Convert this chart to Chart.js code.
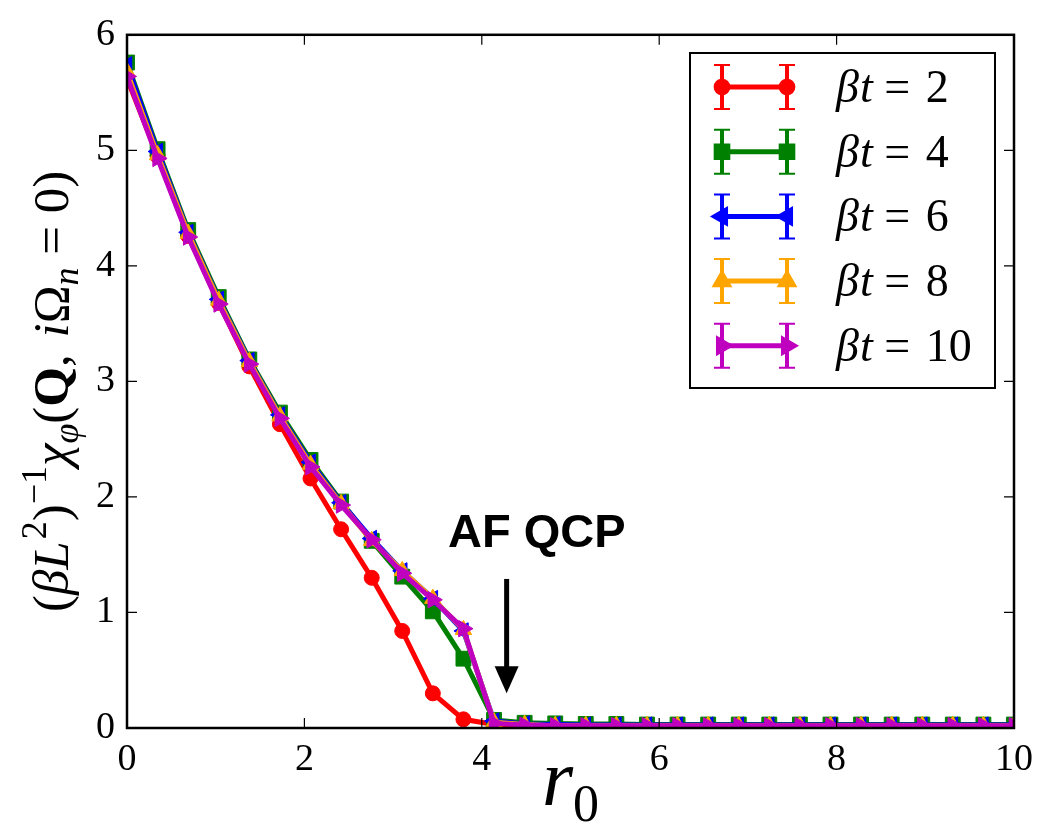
<!DOCTYPE html>
<html>
<head>
<meta charset="utf-8">
<script src="https://cdn.jsdelivr.net/npm/chart.js@4/dist/chart.umd.min.js"></script>
<style>
  html, body { margin: 0; padding: 0; background: #fff; }
  #chart { display: block; }
</style>
</head>
<body>
<canvas id="chart" width="1042" height="826"></canvas>
<script>
// r0 grid (30 points from 0 to 10)
const r0 = [0, 0.345, 0.690, 1.034, 1.379, 1.724, 2.069, 2.414, 2.759, 3.103,
  3.448, 3.793, 4.138, 4.483, 4.828, 5.172, 5.517, 5.862, 6.207, 6.552,
  6.897, 7.241, 7.586, 7.931, 8.276, 8.621, 8.966, 9.310, 9.655, 10.0];

// inverse susceptibility for each beta*t
const bt2 = [5.62, 4.95, 4.26, 3.68, 3.13, 2.63, 2.16, 1.72, 1.30, 0.84,
  0.30, 0.075, 0.03, 0.015, 0.012, 0.01, 0.01, 0.01, 0.01, 0.01,
  0.01, 0.01, 0.01, 0.01, 0.01, 0.01, 0.01, 0.01, 0.01, 0.01];
const bt4 = [5.76, 5.01, 4.31, 3.73, 3.19, 2.73, 2.32, 1.96, 1.62, 1.31,
  1.01, 0.60, 0.07, 0.045, 0.04, 0.035, 0.035, 0.03, 0.03, 0.03,
  0.03, 0.03, 0.03, 0.03, 0.03, 0.03, 0.03, 0.03, 0.03, 0.03];
const bt6 = [5.74, 4.99, 4.29, 3.71, 3.18, 2.71, 2.30, 1.95, 1.64, 1.36,
  1.12, 0.84, 0.06, 0.035, 0.03, 0.025, 0.025, 0.025, 0.025, 0.025,
  0.025, 0.025, 0.025, 0.025, 0.025, 0.025, 0.025, 0.025, 0.025, 0.025];
const bt8 = [5.68, 4.96, 4.28, 3.70, 3.17, 2.70, 2.28, 1.94, 1.62, 1.36,
  1.12, 0.85, 0.05, 0.03, 0.02, 0.02, 0.02, 0.02, 0.02, 0.02,
  0.02, 0.02, 0.02, 0.02, 0.02, 0.02, 0.02, 0.02, 0.02, 0.02];
const bt10 = [5.64, 4.93, 4.25, 3.67, 3.15, 2.68, 2.26, 1.93, 1.63, 1.34,
  1.11, 0.86, 0.04, 0.025, 0.02, 0.02, 0.02, 0.02, 0.02, 0.02,
  0.02, 0.02, 0.02, 0.02, 0.02, 0.02, 0.02, 0.02, 0.02, 0.02];

const xTicks = [0, 2, 4, 6, 8, 10];
const yTicks = [0, 1, 2, 3, 4, 5, 6];
const seriesLabels = ['2', '4', '6', '8', '10'];

const SERIF = '"Liberation Serif", "DejaVu Serif", serif';

const styles = [
  { color: '#ff0000', pointStyle: 'circle', radius: 7.5, rotation: 0 },
  { color: '#008000', pointStyle: 'rect', radius: 10.5, rotation: 0 },
  { color: '#0000ff', pointStyle: 'triangle', radius: 9.5, rotation: -90 },
  { color: '#ffa500', pointStyle: 'triangle', radius: 9.5, rotation: 0 },
  { color: '#bf00bf', pointStyle: 'triangle', radius: 9.5, rotation: 90 }
];

const seriesValues = [bt2, bt4, bt6, bt8, bt10];

const datasets = seriesValues.map((vals, i) => ({
  label: 'βt = ' + seriesLabels[i],
  data: vals.map((v, k) => ({ x: r0[k], y: v })),
  borderColor: styles[i].color,
  backgroundColor: styles[i].color,
  pointBackgroundColor: styles[i].color,
  pointBorderColor: styles[i].color,
  pointStyle: styles[i].pointStyle,
  pointRadius: styles[i].radius,
  pointRotation: styles[i].rotation,
  pointBorderWidth: 1,
  pointHoverRadius: styles[i].radius,
  borderWidth: 5,
  tension: 0,
  clip: 0,
  order: 5 - i
}));

// draw a run of text pieces with different fonts and baseline shifts
function richText(ctx, parts, x, y, measureOnly) {
  let cx = x;
  parts.forEach(p => {
    ctx.font = p.font;
    const w = ctx.measureText(p.t).width;
    if (!measureOnly) ctx.fillText(p.t, cx, y + (p.dy || 0));
    cx += w + (p.gap || 0);
  });
  return cx - x;
}

const frameAndDecor = {
  id: 'frameAndDecor',
  afterDraw(chart) {
    const ctx = chart.ctx;
    const area = chart.chartArea;
    const xs = chart.scales.x;
    const ys = chart.scales.y;
    ctx.save();
    ctx.fillStyle = '#000';
    ctx.strokeStyle = '#000';

    // inward ticks on all four sides
    ctx.lineWidth = 1.2;
    ctx.beginPath();
    xTicks.forEach(v => {
      const px = xs.getPixelForValue(v);
      ctx.moveTo(px, area.bottom); ctx.lineTo(px, area.bottom - 10);
      ctx.moveTo(px, area.top); ctx.lineTo(px, area.top + 10);
    });
    yTicks.forEach(v => {
      const py = ys.getPixelForValue(v);
      ctx.moveTo(area.left, py); ctx.lineTo(area.left + 10, py);
      ctx.moveTo(area.right, py); ctx.lineTo(area.right - 10, py);
    });
    ctx.stroke();

    // axes frame
    ctx.lineWidth = 2.5;
    ctx.strokeRect(area.left, area.top, area.right - area.left, area.bottom - area.top);

    // x axis title r_0
    ctx.textBaseline = 'alphabetic';
    ctx.textAlign = 'left';
    const xt = [
      { t: 'r', font: 'italic 80px ' + SERIF },
      { t: '0', font: '52px ' + SERIF, dy: 16 }
    ];
    const xw = richText(ctx, xt, 0, 0, true);
    richText(ctx, xt, (area.left + area.right) / 2 - xw / 2, 805);

    // y axis title
    const big = '51px ' + SERIF;
    const ital = 'italic 51px ' + SERIF;
    const small = '36px ' + SERIF;
    const smallIt = 'italic 36px ' + SERIF;
    const yt = [
      { t: '(', font: big },
      { t: 'β', font: ital },
      { t: 'L', font: ital, gap: 2 },
      { t: '2', font: small, dy: -22 },
      { t: ')', font: big },
      { t: '−1', font: small, dy: -22 },
      { t: 'χ', font: ital },
      { t: 'φ', font: smallIt, dy: 10 },
      { t: '(', font: big },
      { t: 'Q', font: 'bold 51px ' + SERIF },
      { t: ', ', font: big, gap: 4 },
      { t: 'i', font: ital },
      { t: 'Ω', font: big },
      { t: 'n', font: smallIt, dy: 10 },
      { t: ' = ', font: big },
      { t: '0', font: big },
      { t: ')', font: big }
    ];
    const yw = richText(ctx, yt, 0, 0, true);
    ctx.save();
    ctx.translate(68, (area.top + area.bottom) / 2 + 10);
    ctx.rotate(-Math.PI / 2);
    richText(ctx, yt, -yw / 2, 0);
    ctx.restore();

    // AF QCP annotation with arrow
    const ax = xs.getPixelForValue(4.28);
    ctx.font = 'bold 47px "Liberation Sans", Arial, sans-serif';
    ctx.textAlign = 'center';
    ctx.fillText('AF QCP', xs.getPixelForValue(4.62), ys.getPixelForValue(1.57));
    const yTop = ys.getPixelForValue(1.29);
    const yTip = ys.getPixelForValue(0.30);
    ctx.lineWidth = 5;
    ctx.beginPath();
    ctx.moveTo(ax, yTop);
    ctx.lineTo(ax, yTip - 20);
    ctx.stroke();
    ctx.beginPath();
    ctx.moveTo(ax - 12, yTip - 27);
    ctx.lineTo(ax + 12, yTip - 27);
    ctx.lineTo(ax, yTip);
    ctx.closePath();
    ctx.fill();

    // legend box
    const lx = 690, ly = 53, lw = 305, lh = 335;
    ctx.fillStyle = '#fff';
    ctx.fillRect(lx, ly, lw, lh);
    ctx.lineWidth = 2;
    ctx.strokeStyle = '#000';
    ctx.strokeRect(lx, ly, lw, lh);
    ctx.textAlign = 'left';
    styles.forEach((s, i) => {
      const cy = 87 + i * 64.7;
      const x1 = 722, x2 = 787;
      ctx.strokeStyle = s.color;
      ctx.fillStyle = s.color;
      ctx.lineWidth = 5;
      ctx.beginPath();
      ctx.moveTo(x1, cy); ctx.lineTo(x2, cy);
      ctx.stroke();
      // error bar glyphs
      [x1, x2].forEach(ex => {
        ctx.lineWidth = 2;
        ctx.beginPath();
        ctx.moveTo(ex - 8, cy - 22); ctx.lineTo(ex + 8, cy - 22);
        ctx.moveTo(ex - 8, cy + 22); ctx.lineTo(ex + 8, cy + 22);
        ctx.stroke();
        ctx.lineWidth = 4;
        ctx.beginPath();
        ctx.moveTo(ex, cy - 22); ctx.lineTo(ex, cy + 22);
        ctx.stroke();
        Chart.helpers.drawPoint(ctx, {
          pointStyle: s.pointStyle, radius: s.radius * 0.85, rotation: s.rotation, borderWidth: 1
        }, ex, cy);
      });
      ctx.fillStyle = '#000';
      richText(ctx, [
        { t: 'β', font: 'italic 46px ' + SERIF, gap: 1 },
        { t: 't', font: 'italic 46px ' + SERIF },
        { t: ' = ', font: '46px ' + SERIF, gap: 4 },
        { t: seriesLabels[i], font: '46px ' + SERIF }
      ], 836, cy + 15);
    });

    ctx.restore();
  }
};

new Chart(document.getElementById('chart').getContext('2d'), {
  type: 'line',
  data: { datasets },
  options: {
    responsive: false,
    animation: false,
    events: [],
    layout: { autoPadding: false, padding: { top: 30, right: 23, left: 0, bottom: 0 } },
    scales: {
      x: {
        type: 'linear',
        min: 0,
        max: 10,
        grid: { display: false, drawTicks: false },
        border: { display: false },
        afterBuildTicks: scale => { scale.ticks = xTicks.map(v => ({ value: v })); },
        afterFit: scale => { scale.height = 98; },
        ticks: {
          color: '#000',
          padding: 9,
          maxRotation: 0,
          font: { family: SERIF, size: 38 },
          callback: v => String(v)
        }
      },
      y: {
        type: 'linear',
        min: 0,
        max: 6,
        grid: { display: false, drawTicks: false },
        border: { display: false },
        afterBuildTicks: scale => { scale.ticks = yTicks.map(v => ({ value: v })); },
        afterFit: scale => { scale.width = 127; },
        ticks: {
          color: '#000',
          padding: 12,
          font: { family: SERIF, size: 38 },
          callback: v => String(v)
        }
      }
    },
    plugins: {
      legend: { display: false },
      tooltip: { enabled: false }
    }
  },
  plugins: [frameAndDecor]
});
</script>
</body>
</html>
